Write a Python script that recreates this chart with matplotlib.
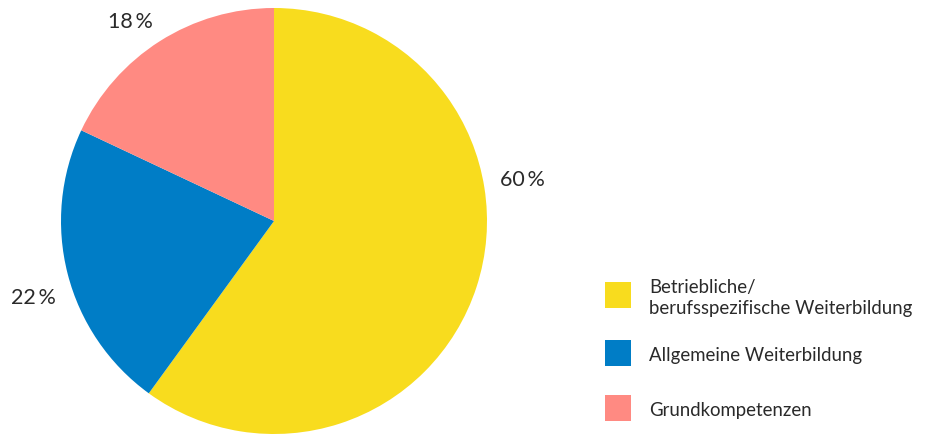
import matplotlib
matplotlib.use("Agg")
import matplotlib.pyplot as plt
from matplotlib.patches import Rectangle

# Weiterbildungsarten, Anteile in Prozent
categories = ["Betriebliche/\nberufsspezifische Weiterbildung",
              "Allgemeine Weiterbildung",
              "Grundkompetenzen"]
shares = [60, 22, 18]
colors = ["#F8DC1E", "#007DC6", "#FF8A82"]

# label anchor positions (pixels from top-left)
label_pos = [(522, 180), (33, 298), (130, 22)]
# legend row centres (pixels from top)
legend_rows = [296, 354, 409]

W, H = 926, 435
TEXT = "#2a2a2a"
plt.rcParams["font.family"] = ["Lato", "DejaVu Sans"]
fig = plt.figure(figsize=(W / 100, H / 100), dpi=100)
ax = fig.add_axes([0, 0, 1, 1])

wedges, _ = ax.pie(shares, colors=colors, startangle=90, counterclock=False,
                   center=(274, H - 222), radius=213,
                   wedgeprops=dict(linewidth=0))
ax.set_xlim(0, W)
ax.set_ylim(0, H)
ax.set_aspect("equal")
ax.axis("off")

for val, (x, y) in zip(shares, label_pos):
    ax.text(x, H - y, f"{val}\u2009%", ha="center", va="center",
            fontsize=15.5, color=TEXT)

# legend: coloured squares with labels
sq = 26
for name, col, yc in zip(categories, colors, legend_rows):
    ax.add_patch(Rectangle((605, H - yc - sq / 2), sq, sq, color=col, lw=0))
    ax.text(649, H - yc - 2, name, ha="left", va="center", fontsize=13.4,
            color=TEXT, linespacing=1.3)

fig.savefig("out.png", dpi=100)
